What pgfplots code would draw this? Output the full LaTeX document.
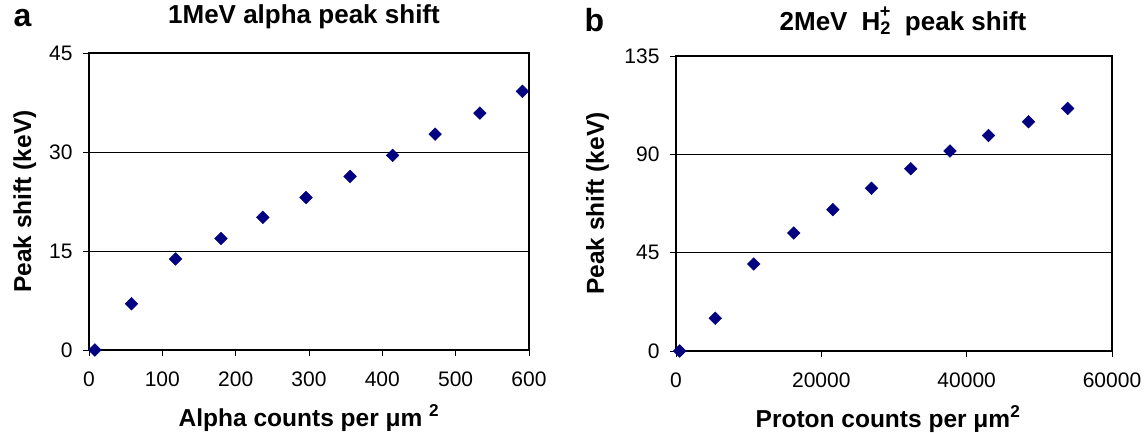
\documentclass[border=0pt]{standalone}
\usepackage{pgfplots}
\pgfplotsset{compat=1.18}
\usepackage{fontspec}
\setmainfont{Liberation Sans}
\definecolor{navy}{RGB}{0,0,128}

\pgfplotsset{
  panel/.style={
    scale only axis,
    clip=false,
    axis line style={line width=1.8pt},
    tick pos=left, tick align=outside,
    major tick length=6pt,
    tick style={line width=1pt, black},
    minor tick num=0,
    ymajorgrids, grid style={line width=0.9pt, black},
    /pgf/number format/assume math mode=true,
    /pgf/number format/1000 sep={},
    ticklabel style={font=\fontsize{21}{24}\selectfont},
    xticklabel style={yshift=-12pt},
    yticklabel style={xshift=-7pt},
    label style={font=\bfseries\fontsize{24.5}{28}\selectfont},
    title style={font=\bfseries\fontsize{26}{30}\selectfont, anchor=base},
    xlabel style={at={(axis description cs:0.5,0)}, anchor=base, yshift=-76pt},
  },
  dots/.style={only marks, mark=square*, mark size=4.5pt,
    mark options={rotate=45, fill=navy, draw=navy}},
}

\begin{document}
\begin{tikzpicture}
\useasboundingbox (0,0) rectangle (1145pt,432pt);

% panel a
\begin{axis}[panel,
  at={(89pt,82pt)}, anchor=south west,
  width=440pt, height=297pt,
  xmin=0, xmax=600, ymin=0, ymax=45,
  xtick={0,100,...,600}, ytick={0,15,30,45},
  title={1MeV alpha peak shift},
  title style={at={(axis description cs:0.5,1)}, yshift=24pt, xshift=-5pt},
  xlabel={Alpha counts per μm \textsuperscript{2}},
  ylabel={Peak shift (keV)},
  ylabel style={at={(axis description cs:-0.146,0.5)}, anchor=center},
]
\addplot[dots] coordinates {
  (8,0) (58,7.0) (118,13.8) (180,16.9) (237,20.1) (296,23.1)
  (356,26.3) (414,29.5) (472,32.7) (533,35.9) (591,39.2)
};
\end{axis}

% panel b
\begin{axis}[panel,
  at={(676pt,81pt)}, anchor=south west,
  width=436pt, height=295pt,
  xmin=0, xmax=60000, ymin=0, ymax=135,
  xtick={0,20000,40000,60000}, ytick={0,45,90,135},
  scaled x ticks=false,
  title={2MeV\hspace{14pt}H\textsubscript{2}\llap{\raisebox{3pt}{\textsuperscript{+}}}\hspace{14pt}peak shift},
  title style={at={(axis description cs:0.5,1)}, yshift=20pt, xshift=9pt},
  xlabel={Proton counts per μm\textsuperscript{2}},
  xlabel style={xshift=-6pt},
  ylabel={Peak shift (keV)},
  ylabel style={at={(axis description cs:-0.18,0.5)}, anchor=center},
]
\addplot[dots] coordinates {
  (500,0) (5400,15.0) (10700,39.8) (16200,54.0) (21600,64.7) (26900,74.5)
  (32300,83.4) (37700,91.5) (43000,98.6) (48500,104.9) (53900,111.0)
};
\end{axis}

\node[anchor=base west, font=\bfseries\fontsize{32}{36}\selectfont] at (10pt,405pt) {a};
\node[anchor=base west, font=\bfseries\fontsize{32}{36}\selectfont] at (581pt,400pt) {b};
\end{tikzpicture}
\end{document}
